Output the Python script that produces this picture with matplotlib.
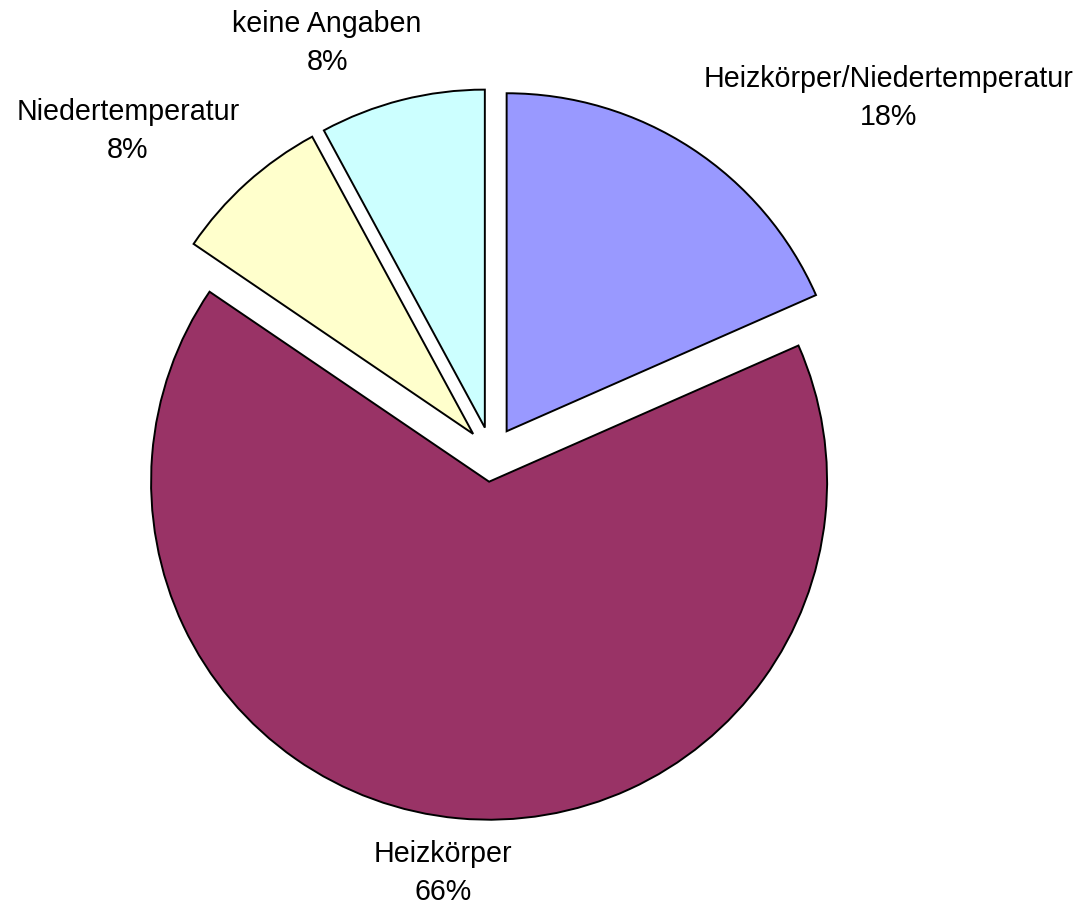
import matplotlib
matplotlib.use("Agg")
import matplotlib.pyplot as plt

# share of answers per heating system type, in percent
names = ["Heizkörper/Niedertemperatur", "Heizkörper", "Niedertemperatur", "keine Angaben"]
shares = [18.4, 66.1, 7.6, 7.9]
colors = ["#9999FF", "#993366", "#FFFFCC", "#CCFFFF"]

# label centres in pixels of the 1086x911 figure
label_px = [(889, 98), (443, 873), (128, 131), (327, 43)]

W, H = 1086, 911
cx, cy, rad = 491.6, 454.3, 338.0

fig = plt.figure(figsize=(W / 100, H / 100), dpi=100)
ax = fig.add_axes([0, 0, 1, 1])

ax.pie(shares, colors=colors, startangle=90, counterclock=False,
       explode=[0.0814] * len(shares), radius=1.0, center=(0, 0),
       wedgeprops=dict(edgecolor="black", linewidth=1.4), frame=True)
ax.set_xlim(-cx / rad, (W - cx) / rad)
ax.set_ylim(-(H - cy) / rad, cy / rad)
ax.axis("off")

for name, s, (px, py) in zip(names, shares, label_px):
    ax.text((px - cx) / rad, (cy - py) / rad, "%s\n%d%%" % (name, round(s)),
            ha="center", va="center", fontsize=20.6, family="Liberation Sans",
            linespacing=1.42)

fig.savefig("out.png", dpi=100)
